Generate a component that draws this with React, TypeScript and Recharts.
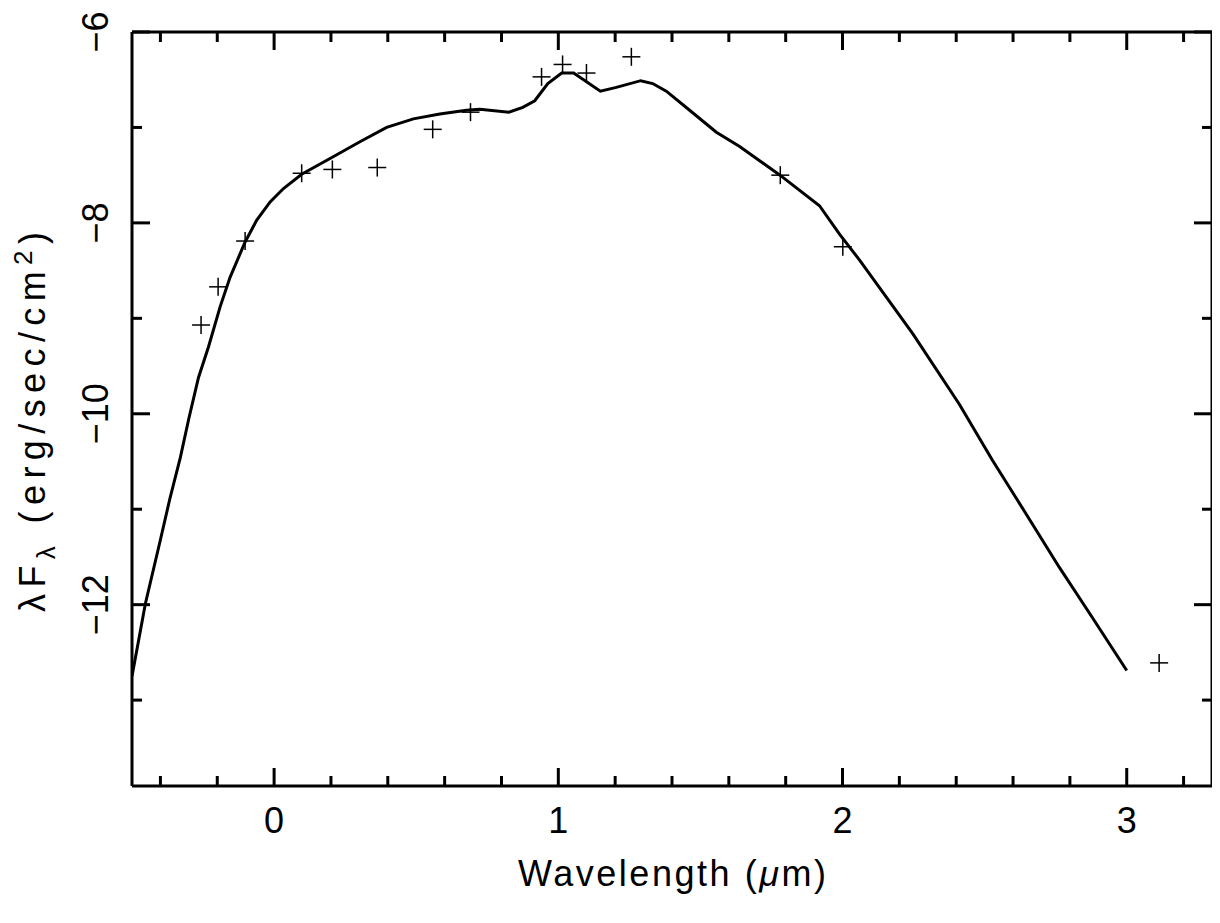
import React from "react";
import { ComposedChart, Line, Scatter, XAxis, YAxis } from "recharts";

// model SED curve (log wavelength, log lambda*F_lambda)
const curveX = [
  -0.5, -0.453, -0.4, -0.366, -0.33, -0.3, -0.266, -0.231, -0.19, -0.155, -0.102, -0.061,
  -0.014, 0.033, 0.097, 0.2, 0.302, 0.396, 0.49, 0.583, 0.677, 0.724, 0.826, 0.875, 0.917,
  0.963, 1.012, 1.054, 1.148, 1.204, 1.29, 1.332, 1.38, 1.462, 1.556, 1.638, 1.78, 1.919,
  1.99, 2.06, 2.247, 2.411, 2.528, 2.646, 2.763, 2.88, 3.0,
];
const curveY = [
  -12.75, -11.99, -11.32, -10.88, -10.46, -10.05, -9.62, -9.3, -8.88, -8.57, -8.2, -7.97,
  -7.78, -7.64, -7.49, -7.32, -7.15, -7.0, -6.91, -6.86, -6.82, -6.81, -6.84, -6.79, -6.72,
  -6.54, -6.43, -6.43, -6.62, -6.58, -6.51, -6.54, -6.62, -6.82, -7.05, -7.2, -7.5, -7.82,
  -8.12, -8.39, -9.16, -9.9, -10.49, -11.05, -11.61, -12.14, -12.69,
];

// photometric points
const obsX = [
  -0.257, -0.197, -0.102, 0.097, 0.205, 0.363, 0.558, 0.691, 0.941, 1.015, 1.099, 1.257,
  1.781, 2.001, 3.114,
];
const obsY = [
  -9.07, -8.67, -8.19, -7.48, -7.44, -7.42, -7.02, -6.84, -6.47, -6.34, -6.43, -6.26, -7.5,
  -8.25, -12.61,
];

const xTicks = [
  -0.4, -0.2, 0, 0.2, 0.4, 0.6, 0.8, 1, 1.2, 1.4, 1.6, 1.8, 2, 2.2, 2.4, 2.6, 2.8, 3, 3.2,
];
const xMajor = [0, 1, 2, 3];
const yTicks = [-13, -12, -11, -10, -9, -8, -7, -6];
const yMajor = [-12, -10, -8, -6];

const curve = curveX.map((x, i) => ({ x, y: curveY[i] }));
const obs = obsX.map((x, i) => ({ x, y: obsY[i] }));

const FONT = "Liberation Sans";
const fmt = (v: number) => String(v).replace("-", "\u2212");

const BottomTick = ({ x, y, payload }: any) => {
  const major = xMajor.includes(payload.value);
  return (
    <g>
      <line x1={x} x2={x} y1={y} y2={y - (major ? 18 : 10)} stroke="#000" strokeWidth={3} />
      {major && (
        <text x={x} y={y + 47} textAnchor="middle" fontSize={36} fontFamily={FONT} fill="#000">
          {fmt(payload.value)}
        </text>
      )}
    </g>
  );
};

const TopTick = ({ x, y, payload }: any) => {
  const major = xMajor.includes(payload.value);
  return <line x1={x} x2={x} y1={y} y2={y + (major ? 18 : 10)} stroke="#000" strokeWidth={3} />;
};

const LeftTick = ({ x, y, payload }: any) => {
  const major = yMajor.includes(payload.value);
  return (
    <g>
      <line x1={x} x2={x + (major ? 18 : 10)} y1={y} y2={y} stroke="#000" strokeWidth={3} />
      {major && (
        <text
          x={x - 24}
          y={y}
          transform={`rotate(-90, ${x - 24}, ${y})`}
          textAnchor="middle"
          fontSize={36}
          fontFamily={FONT}
          fill="#000"
        >
          {fmt(payload.value)}
        </text>
      )}
    </g>
  );
};

const RightTick = ({ x, y, payload }: any) => {
  const major = yMajor.includes(payload.value);
  return <line x1={x} x2={x - (major ? 18 : 10)} y1={y} y2={y} stroke="#000" strokeWidth={3} />;
};

const Plus = ({ cx, cy }: any) => (
  <g stroke="#000" strokeWidth={1.5}>
    <line x1={cx - 9} x2={cx + 9} y1={cy} y2={cy} />
    <line x1={cx} x2={cx} y1={cy - 9} y2={cy + 9} />
  </g>
);

const XTitle = () => (
  <text
    x={518}
    y={886}
    textLength={308}
    lengthAdjust="spacing"
    fontSize={36}
    fontFamily={FONT}
    fill="#000"
  >
    Wavelength  (<tspan fontStyle="italic">μ</tspan>m)
  </text>
);

const YTitle = () => (
  <text
    x={45}
    y={612}
    transform="rotate(-90, 45, 612)"
    textLength={380}
    lengthAdjust="spacing"
    fontSize={36}
    fontFamily={FONT}
    fill="#000"
  >
    λF
    <tspan fontSize={26} dy={10}>λ</tspan>
    <tspan dy={-10}>{"  (erg/sec/cm"}</tspan>
    <tspan fontSize={26} dy={-13}>2</tspan>
    <tspan dy={13}>)</tspan>
  </text>
);

export default function App() {
  return (
    <div style={{ margin: -8, background: "#fff" }}>
      <ComposedChart
        width={1220}
        height={923}
        margin={{ top: 31, right: 7, bottom: 136, left: 131 }}
      >
        <XAxis
          xAxisId="b"
          dataKey="x"
          type="number"
          domain={[-0.5, 3.3]}
          allowDataOverflow
          ticks={xTicks}
          interval={0}
          height={1}
          tickSize={0}
          tickMargin={0}
          tickLine={false}
          tick={<BottomTick />}
          axisLine={{ stroke: "#000", strokeWidth: 3 }}
          label={<XTitle />}
        />
        <XAxis
          xAxisId="t"
          orientation="top"
          dataKey="x"
          type="number"
          domain={[-0.5, 3.3]}
          allowDataOverflow
          ticks={xTicks}
          interval={0}
          height={1}
          tickSize={0}
          tickMargin={0}
          tickLine={false}
          tick={<TopTick />}
          axisLine={{ stroke: "#000", strokeWidth: 3 }}
        />
        <YAxis
          yAxisId="l"
          dataKey="y"
          type="number"
          domain={[-13.9, -6]}
          allowDataOverflow
          ticks={yTicks}
          interval={0}
          width={1}
          tickSize={0}
          tickMargin={0}
          tickLine={false}
          tick={<LeftTick />}
          axisLine={{ stroke: "#000", strokeWidth: 3 }}
          label={<YTitle />}
        />
        <YAxis
          yAxisId="r"
          orientation="right"
          dataKey="y"
          type="number"
          domain={[-13.9, -6]}
          allowDataOverflow
          ticks={yTicks}
          interval={0}
          width={1}
          tickSize={0}
          tickMargin={0}
          tickLine={false}
          tick={<RightTick />}
          axisLine={{ stroke: "#000", strokeWidth: 3 }}
        />
        <Line
          xAxisId="b"
          yAxisId="l"
          data={curve}
          dataKey="y"
          type="linear"
          stroke="#000"
          strokeWidth={3}
          dot={false}
          activeDot={false}
          isAnimationActive={false}
        />
        <Scatter
          xAxisId="b"
          yAxisId="l"
          data={obs}
          dataKey="y"
          shape={<Plus />}
          isAnimationActive={false}
        />
      </ComposedChart>
    </div>
  );
}
